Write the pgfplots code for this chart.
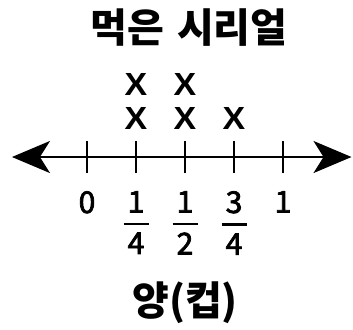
\documentclass[border=0pt]{standalone}
\usepackage{fontspec}
\setmainfont{Noto Sans CJK KR}
\newfontfamily\numfont{Noto Sans CJK KR}[FakeBold=2.5]
\newfontfamily\xfont{Liberation Sans}[FakeStretch=1.06]
\usepackage{pgfplots}
\pgfplotsset{compat=1.18}
\usetikzlibrary{arrows.meta}

% stacked fraction in the text font
\newcommand\fr[2]{\vbox{\hbox to 25bp{\hss#1\hss}\kern10bp\hrule height 2.5bp\kern7.5bp\hbox to 25bp{\hss#2\hss}}}
\newcommand\one[1]{\vbox{\hbox{#1}}}

\begin{document}
\begin{tikzpicture}
\begin{axis}[
    scale only axis,
    width=339.6bp, height=329bp,
    xmin=-0.383, xmax=1.3495,
    ymin=-5.134, ymax=4.687,
    axis x line=middle,
    axis y line=none,
    x axis line style={{Stealth[length=38bp,width=32bp,inset=10bp]}-{Stealth[length=38bp,width=32bp,inset=10bp]}, line width=2.2bp},
    xtick={0,0.25,0.5,0.75,1},
    xticklabels={\one{0},\fr{1}{4},\fr{1}{2},\fr{3}{4},\one{1}},
    major tick length=32bp,
    tick align=center,
    tick style={line width=2bp, black},
    xticklabel style={anchor=north, inner sep=0pt, yshift=-18bp, font=\numfont\fontsize{30bp}{34bp}\selectfont},
    clip=false,
]
\addplot[only marks, mark=text,
    text mark={\xfont\fontsize{32bp}{36bp}\selectfont\bfseries X},
    every mark/.append style={yshift=5.5bp}]
    coordinates {(0.25,1) (0.25,2) (0.5,1) (0.5,2) (0.75,1)};

\node[font=\fontsize{40bp}{46bp}\selectfont\bfseries] at (axis cs:0.520,3.866) {먹은\hspace{4bp} 시리얼};
\node[font=\fontsize{40bp}{46bp}\selectfont\bfseries] at (axis cs:0.5,-4.358) {양(컵)};

\path (axis cs:-0.4439,-5.134) rectangle (axis cs:1.357,4.687);
\end{axis}
\end{tikzpicture}
\end{document}
